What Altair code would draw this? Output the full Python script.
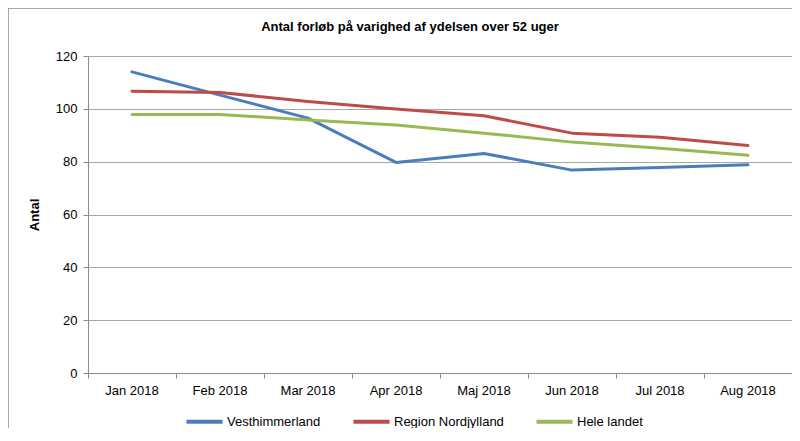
import altair as alt
import pandas as pd

months = ["Jan 2018", "Feb 2018", "Mar 2018", "Apr 2018", "Maj 2018", "Jun 2018", "Jul 2018", "Aug 2018"]
series_names = ["Vesthimmerland", "Region Nordjylland", "Hele landet"]
vesthimmerland = [114, 105.2, 96.5, 79.7, 83.1, 76.8, 77.8, 78.8]
nordjylland = [106.7, 106.2, 102.8, 99.9, 97.4, 90.8, 89.2, 86.1]
hele_landet = [97.9, 97.9, 95.8, 93.9, 90.8, 87.4, 85.1, 82.4]
colors = ["#4a7ebb", "#be4b48", "#98b954"]

rows = []
for name, vals in zip(series_names, [vesthimmerland, nordjylland, hele_landet]):
    for m, v in zip(months, vals):
        rows.append({"Måned": m, "Serie": name, "Antal": v})
df = pd.DataFrame(rows)

W, H = 704, 317
FONT = "Liberation Sans"

lines = alt.Chart(df).mark_line(strokeWidth=3, strokeCap="round", strokeJoin="round").encode(
    x=alt.X("Måned:N", sort=months,
            scale=alt.Scale(type="band", paddingInner=0, paddingOuter=0),
            axis=alt.Axis(title=None, bandPosition=1, tickExtra=True,
                          labelAngle=0, labelFontSize=13, labelFont=FONT, labelColor="#000",
                          domainColor="#8c8c8c", tickColor="#8c8c8c", tickSize=5,
                          labelPadding=6, grid=False)),
    y=alt.Y("Antal:Q", scale=alt.Scale(domain=[0, 120], nice=False),
            axis=alt.Axis(title="Antal", values=[0, 20, 40, 60, 80, 100, 120],
                          titleFont=FONT, titleFontSize=13, titleFontWeight="bold",
                          titleColor="#000", titlePadding=14,
                          labelFontSize=13, labelFont=FONT, labelColor="#000", labelPadding=6,
                          domainColor="#8c8c8c", tickColor="#8c8c8c", tickSize=5,
                          gridColor="#a6a6a6", gridWidth=1)),
    color=alt.Color("Serie:N", sort=series_names,
                    scale=alt.Scale(domain=series_names, range=colors),
                    legend=alt.Legend(title=None, orient="none", direction="horizontal",
                                      legendX=96, legendY=345, symbolType="stroke",
                                      symbolSize=1300, symbolStrokeWidth=4,
                                      labelFontSize=13, labelFont=FONT, labelColor="#000",
                                      columnPadding=24, labelOffset=2)),
)

frame = alt.Chart(pd.DataFrame({"a": [0]})).mark_rect(
    fill="transparent", stroke="#8c8c8c", strokeWidth=1.5, clip=False
).encode(x=alt.value(-80), x2=alt.value(707), y=alt.value(-48), y2=alt.value(420))

chart = alt.layer(frame, lines).properties(
    width=W, height=H,
    title=alt.TitleParams("Antal forløb på varighed af ydelsen over 52 uger",
                          font=FONT, fontSize=13, fontWeight="bold", color="#000",
                          anchor="middle", dx=-30, offset=-27, orient="top"),
    autosize=alt.AutoSizeParams(type="none"),
    padding={"left": 80, "top": 48, "right": 0, "bottom": 55},
).configure_view(stroke=None).configure(background="white")

chart.save("out.html", embed_options={"renderer": "svg", "actions": False})
